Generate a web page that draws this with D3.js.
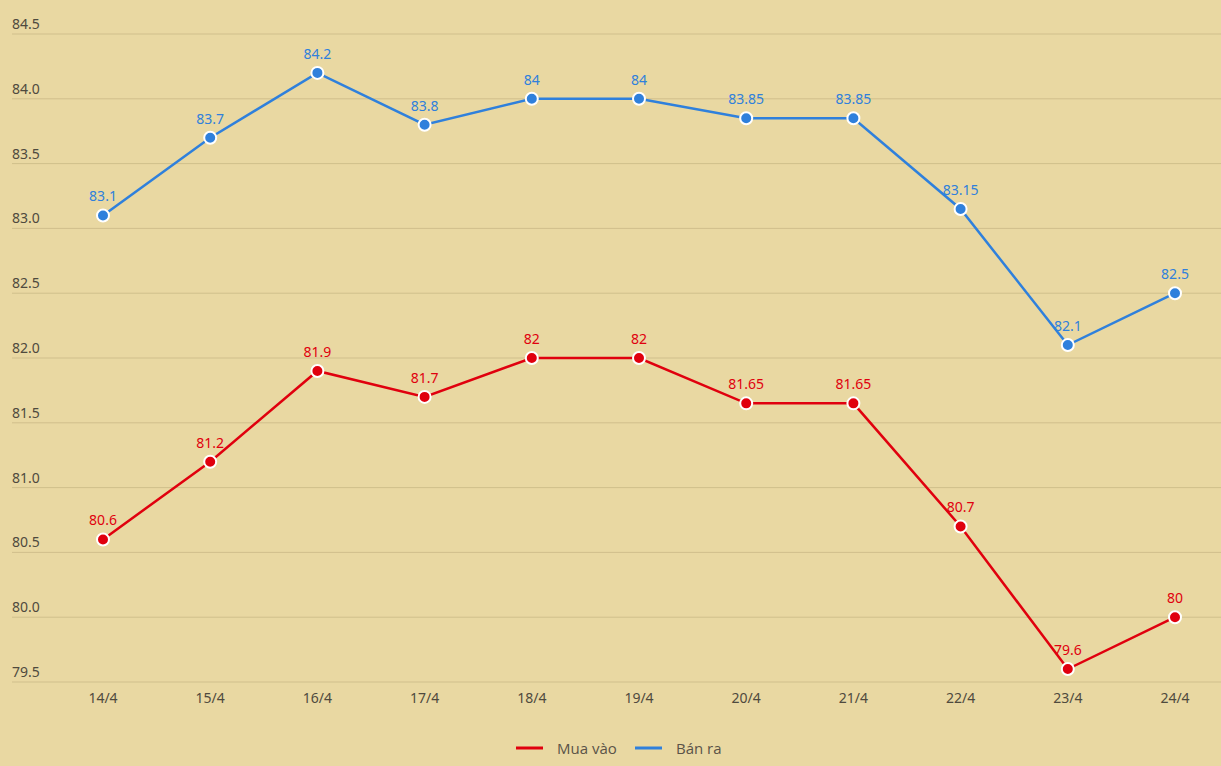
<!DOCTYPE html>
<html>
<head>
<meta charset="utf-8">
<script src="https://cdn.jsdelivr.net/npm/d3@7"></script>
<style>
	body { margin: 0; background: #e9d8a2; }
	svg { display: block; font-family: "Noto Sans", "Open Sans", sans-serif; }
</style>
</head>
<body>
<script>
//Chart data
let days = ["14/4", "15/4", "16/4", "17/4", "18/4", "19/4", "20/4", "21/4", "22/4", "23/4", "24/4"];
let buyValues = [80.6, 81.2, 81.9, 81.7, 82, 82, 81.65, 81.65, 80.7, 79.6, 80];
let sellValues = [83.1, 83.7, 84.2, 83.8, 84, 84, 83.85, 83.85, 83.15, 82.1, 82.5];
let yTicks = [79.5, 80.0, 80.5, 81.0, 81.5, 82.0, 82.5, 83.0, 83.5, 84.0, 84.5];
let seriesNames = ["Mua vào", "Bán ra"];
let seriesColors = ["#e0000e", "#2f80dc"];

let w = 1221, h = 766;

let svg = d3.select("body")
	.append("svg")
	.attr("width", w)
	.attr("height", h);

//Scales
let x = d3.scalePoint()
	.domain(days)
	.range([103, 1175]);

let y = d3.scaleLinear()
	.domain([79.5, 84.5])
	.range([682, 34]);

//Gridlines and y labels
let grid = svg.append("g").attr("class", "grid");
grid.selectAll("line")
	.data(yTicks)
	.enter()
	.append("line")
	.attr("x1", 12)
	.attr("x2", w)
	.attr("y1", d => y(d))
	.attr("y2", d => y(d))
	.style("stroke", "#d0bf8c")
	.style("stroke-width", 1);

grid.selectAll("text")
	.data(yTicks)
	.enter()
	.append("text")
	.attr("x", 12)
	.attr("y", d => y(d) - 5)
	.style("font-size", "14px")
	.style("fill", "#4f4a3e")
	.text(d => d3.format(".1f")(d));

//X axis labels
svg.append("g")
	.attr("class", "xlabels")
	.selectAll("text")
	.data(days)
	.enter()
	.append("text")
	.attr("x", d => x(d))
	.attr("y", 703)
	.attr("text-anchor", "middle")
	.style("font-size", "14px")
	.style("fill", "#4f4a3e")
	.text(d => d);

//Lines, points and labels
let line = d3.line()
	.x((d, i) => x(days[i]))
	.y(d => y(d));

[buyValues, sellValues].forEach(function(values, s){
	let g = svg.append("g").attr("class", "series");
	g.append("path")
		.datum(values)
		.attr("d", line)
		.style("fill", "none")
		.style("stroke", seriesColors[s])
		.style("stroke-width", 2.5);

	g.selectAll("circle")
		.data(values)
		.enter()
		.append("circle")
		.attr("cx", (d, i) => x(days[i]))
		.attr("cy", d => y(d))
		.attr("r", 6)
		.style("fill", seriesColors[s])
		.style("stroke", "#fff")
		.style("stroke-width", 2);

	g.selectAll("text")
		.data(values)
		.enter()
		.append("text")
		.attr("x", (d, i) => x(days[i]))
		.attr("y", d => y(d) - 14)
		.attr("text-anchor", "middle")
		.style("font-size", "14px")
		.style("fill", seriesColors[s])
		.text(d => d);
});

//Legend
let legend = svg.append("g").attr("class", "legend");
let legendX = [516, 635];
seriesNames.forEach(function(name, i){
	legend.append("line")
		.attr("x1", legendX[i])
		.attr("x2", legendX[i] + 27)
		.attr("y1", 748)
		.attr("y2", 748)
		.style("stroke", seriesColors[i])
		.style("stroke-width", 3);
	legend.append("text")
		.attr("x", legendX[i] + 41)
		.attr("y", 754)
		.style("font-size", "15px")
		.style("font-family", "'Open Sans', sans-serif")
		.style("fill", "#5a5348")
		.text(name);
});
</script>
</body>
</html>
